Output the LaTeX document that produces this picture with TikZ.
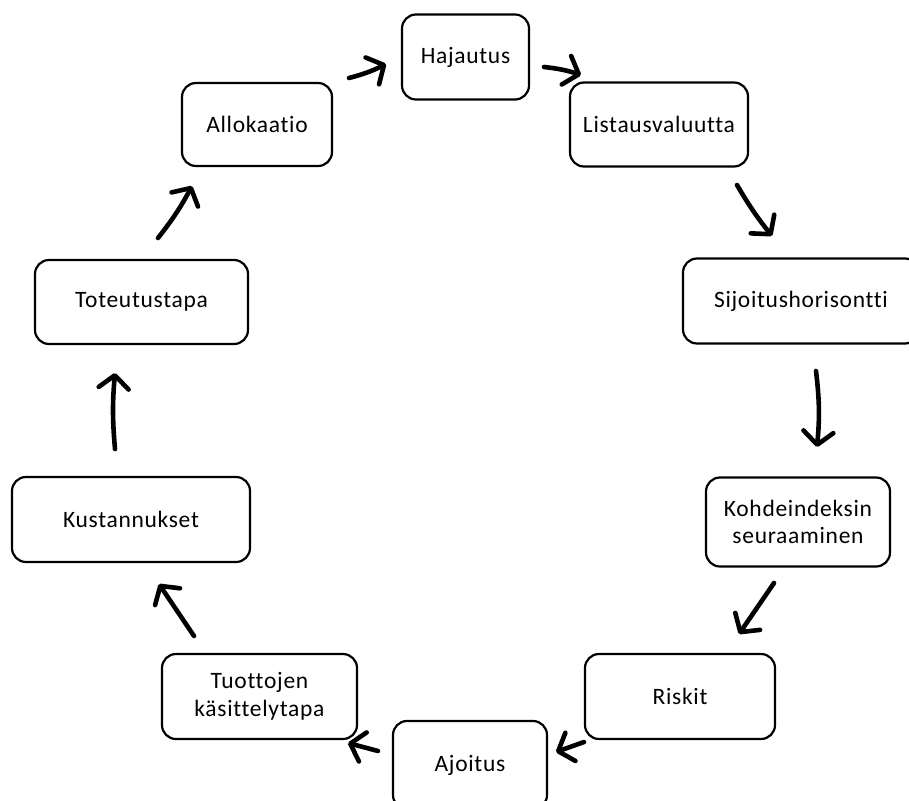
\documentclass[tikz,border=0pt]{standalone}
\usepackage{fontspec}
\setmainfont{Carlito}[Ligatures={NoCommon}, LetterSpace=3]
\usetikzlibrary{arrows.meta}
\tikzset{
  box/.style={draw=black, line width=2.2pt, rounded corners=14pt, fill=white,
    inner sep=0pt, align=center, font=\fontsize{23.5}{27.5}\selectfont},
  flow/.style={line width=4.6pt, line cap=round,
    -{Straight Barb[length=13pt, width=30pt, line cap=round, line join=round]}}
}
\begin{document}
\begin{tikzpicture}[x=1pt, y=-1pt]
  \useasboundingbox (0,0) rectangle (909,800);
  \clip (0,0) rectangle (909,800);
  \fill[white] (0,0) rectangle (909,800);

  % the ten steps, arranged in a ring
  \node[box, minimum width=127pt, minimum height=85pt] (haj) at (465.5,57) {Hajautus};
  \node[box, minimum width=178pt, minimum height=84pt] (lis) at (659,124.5) {Listausvaluutta};
  \node[box, minimum width=236pt, minimum height=85pt] (sij) at (801,301) {Sijoitushorisontti};
  \node[box, minimum width=184pt, minimum height=89pt] (koh) at (798,522) {Kohdeindeksin\\seuraaminen};
  \node[box, minimum width=190pt, minimum height=85pt] (ris) at (680,696.5) {Riskit};
  \node[box, minimum width=154pt, minimum height=88pt] (ajo) at (470,765) {Ajoitus};
  \node[box, minimum width=195pt, minimum height=85pt] (tuo) at (259.5,696.5) {Tuottojen\\käsittelytapa};
  \node[box, minimum width=238pt, minimum height=85pt] (kus) at (131,519.5) {Kustannukset};
  \node[box, minimum width=213pt, minimum height=84pt] (tot) at (141.5,302) {Toteutustapa};
  \node[box, minimum width=150pt, minimum height=83pt] (all) at (257,124.5) {Allokaatio};

  % arrow end points between neighbouring steps
  \coordinate (a1s) at (349,78);  \coordinate (a1e) at (386,64);
  \coordinate (a2s) at (544,67);  \coordinate (a2e) at (581,75);
  \coordinate (a3s) at (737,185); \coordinate (a3e) at (772,236);
  \coordinate (a4s) at (816,371); \coordinate (a4e) at (817,447);
  \coordinate (a5s) at (774,583); \coordinate (a5e) at (739,634);
  \coordinate (a6s) at (584,742); \coordinate (a6e) at (556,752);
  \coordinate (a7s) at (378,751); \coordinate (a7e) at (348,743);
  \coordinate (a8s) at (194,636); \coordinate (a8e) at (159,584);
  \coordinate (a9s) at (115,449); \coordinate (a9e) at (115,373);
  \coordinate (a10s) at (158,238); \coordinate (a10e) at (192,186);

  \draw[flow] (a1s) to[bend right=6] (a1e);
  \draw[flow] (a2s) to[bend left=6] (a2e);
  \draw[flow] (a3s) to[bend right=4] (a3e);
  \draw[flow] (a4s) to[bend left=6] (a4e);
  \draw[flow] (a5s) to (a5e);
  \draw[flow] (a6s) to (a6e);
  \draw[flow] (a7s) to (a7e);
  \draw[flow] (a8s) to (a8e);
  \draw[flow] (a9s) to[bend left=5] (a9e);
  \draw[flow] (a10s) to[bend right=5] (a10e);
\end{tikzpicture}
\end{document}
